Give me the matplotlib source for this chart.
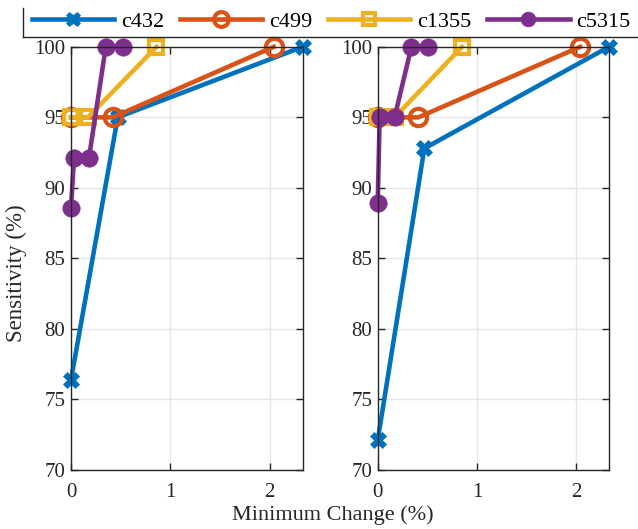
import matplotlib
matplotlib.use("Agg")
import matplotlib.pyplot as plt
from matplotlib.lines import Line2D

plt.rcParams['font.family'] = ['Liberation Serif', 'DejaVu Serif']
plt.rcParams['mathtext.fontset'] = 'stix'

labels = ['c432', 'c499', 'c1355', 'c5315']
colors = ['#0072BD', '#D95319', '#EDB120', '#7E2F8E']

# Left panel
left_x = {
    'c432': [0, 0.47, 2.33],
    'c499': [0, 0.42, 2.04],
    'c1355': [0, 0.17, 0.86],
    'c5315': [0, 0.03, 0.18, 0.35, 0.52],
}
left_y = {
    'c432': [76.4, 95.0, 100],
    'c499': [95, 95, 100],
    'c1355': [95, 95, 100],
    'c5315': [88.6, 92.1, 92.1, 100, 100],
}
# Right panel
right_x = {
    'c432': [0, 0.47, 2.33],
    'c499': [0, 0.41, 2.04],
    'c1355': [0, 0.17, 0.85],
    'c5315': [0, 0.02, 0.17, 0.34, 0.51],
}
right_y = {
    'c432': [72.1, 92.8, 100],
    'c499': [95, 95, 100],
    'c1355': [95, 95, 100],
    'c5315': [88.9, 95, 95, 100, 100],
}

yticks = [70, 75, 80, 85, 90, 95, 100]
xticks = [0, 1, 2]

W, H = 638, 529
fig = plt.figure(figsize=(W / 100, H / 100), dpi=100)
ax1 = fig.add_axes([0.1113, 0.1115, 0.363, 0.800])
ax2 = fig.add_axes([0.592, 0.1115, 0.3625, 0.800])

def style(lab, col):
    if lab == 'c432':
        return dict(marker='X', markersize=12, markerfacecolor=col, markeredgecolor=col, markeredgewidth=0.5)
    if lab == 'c5315':
        return dict(marker='o', markersize=12.5, markerfacecolor=col, markeredgecolor=col, markeredgewidth=0.5)
    if lab == 'c499':
        return dict(marker='o', markersize=12.5, markerfacecolor='none', markeredgecolor=col, markeredgewidth=3)
    return dict(marker='s', markersize=10.5, markerfacecolor='none', markeredgecolor=col, markeredgewidth=3)

handles = []
for ax, xs, ys in [(ax1, left_x, left_y), (ax2, right_x, right_y)]:
    for lab, col in zip(labels, colors):
        h, = ax.plot(xs[lab], ys[lab], color=col, linewidth=3.3, label=lab, clip_on=False, **style(lab, col))
        if ax is ax1:
            handles.append(h)
    ax.set_xlim(0, 2.33)
    ax.set_ylim(70, 100)
    ax.set_xticks(xticks)
    ax.set_yticks(yticks)
    ax.grid(True, color='#e6e6e6', linewidth=1.0)
    ax.set_axisbelow(True)
    ax.tick_params(direction='in', top=True, right=True, labelsize=15, colors='#262626', length=5, width=1)
    ax.tick_params(axis='x', pad=9)
    ax.tick_params(axis='y', pad=4)
    for s in ax.spines.values():
        s.set_linewidth(1.0)
        s.set_color('#262626')

ax1.set_ylabel('Sensitivity (%)', fontsize=16.5, color='#262626')
ax1.yaxis.set_label_coords(-0.19, 0.465)
fig.text(0.522, 0.027, 'Minimum Change (%)', ha='center', va='center', fontsize=16, color='#262626')

# legend handles with smaller markers
leg_handles = []
for lab, col in zip(labels, colors):
    st = style(lab, col)
    st['markersize'] = st['markersize'] * 0.85
    leg_handles.append(Line2D([], [], color=col, linewidth=3.3, **st))

leg = fig.legend(handles=leg_handles, labels=labels, loc='center left', ncol=4,
                 bbox_to_anchor=(32 / W, 1 - 22 / H), fontsize=16, frameon=False,
                 handlelength=3.7, columnspacing=0.72, handletextpad=0.3,
                 borderaxespad=0, borderpad=0.0)
for t in leg.get_texts():
    t.set_color('#000000')
# partial legend frame (top edge lies outside the image in the reference)
fig.add_artist(Line2D([23 / W, 23 / W], [1 - 8 / H, 1 - 37 / H], transform=fig.transFigure,
                      color='#262626', linewidth=1.0))
fig.add_artist(Line2D([23 / W, 1.0], [1 - 37 / H, 1 - 37 / H], transform=fig.transFigure,
                      color='#262626', linewidth=1.0))

fig.savefig('out.png', dpi=100)
